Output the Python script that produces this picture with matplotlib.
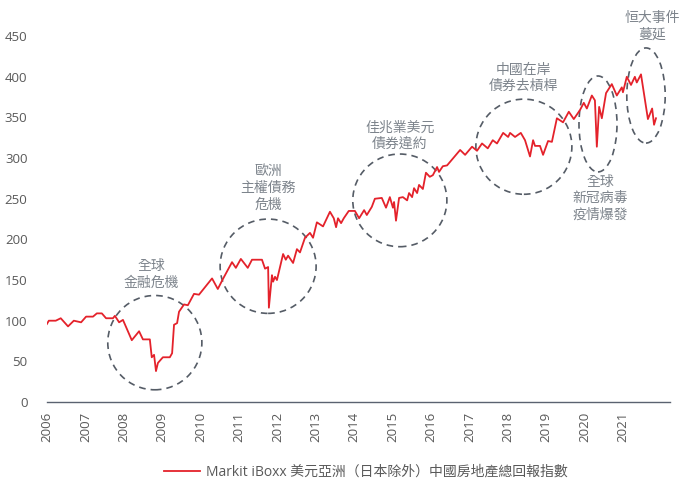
import matplotlib.pyplot as plt
from matplotlib.patches import Ellipse

# index level (decimal year, value)
years = [2006.00, 2006.05, 2006.23, 2006.36, 2006.55, 2006.70, 2006.89, 2007.02,
         2007.20, 2007.30, 2007.43, 2007.54, 2007.72, 2007.77, 2007.88, 2007.98,
         2008.21, 2008.40, 2008.50, 2008.68, 2008.73, 2008.79, 2008.84, 2008.89,
         2009.02, 2009.20, 2009.26, 2009.31, 2009.39, 2009.44, 2009.57, 2009.67,
         2009.83, 2009.96, 2010.30, 2010.45, 2010.58, 2010.82, 2010.92, 2011.05,
         2011.23, 2011.34, 2011.60, 2011.68, 2011.76, 2011.78, 2011.86, 2011.89,
         2011.94, 2011.99, 2012.15, 2012.22, 2012.28, 2012.41, 2012.51, 2012.59,
         2012.72, 2012.85, 2012.93, 2013.03, 2013.19, 2013.37, 2013.47, 2013.53,
         2013.58, 2013.66, 2013.73, 2013.86, 2014.02, 2014.13, 2014.26, 2014.33,
         2014.46, 2014.54, 2014.72, 2014.83, 2014.93, 2015.01, 2015.04, 2015.09,
         2015.17, 2015.27, 2015.38, 2015.43, 2015.51, 2015.56, 2015.64, 2015.69,
         2015.79, 2015.87, 2015.97, 2016.05, 2016.16, 2016.21, 2016.31, 2016.42,
         2016.76, 2016.89, 2017.07, 2017.20, 2017.33, 2017.48, 2017.61, 2017.72,
         2017.88, 2018.01, 2018.06, 2018.19, 2018.34, 2018.45, 2018.58, 2018.66,
         2018.71, 2018.84, 2018.92, 2019.05, 2019.15, 2019.28, 2019.44, 2019.59,
         2019.72, 2019.88, 2019.98, 2020.06, 2020.19, 2020.27, 2020.32, 2020.38,
         2020.45, 2020.56, 2020.71, 2020.84, 2020.97, 2021.00, 2021.10, 2021.21,
         2021.31, 2021.36, 2021.47, 2021.65, 2021.76, 2021.81, 2021.86]
values = [96, 100, 100, 103, 93, 100, 98, 105,
          105, 109, 109, 103, 103, 106, 98, 101,
          76, 87, 77, 77, 55, 58, 38, 48,
          55, 55, 60, 95, 97, 111, 120, 119,
          133, 132, 152, 139, 151, 172, 165, 176,
          165, 175, 175, 164, 166, 116, 156, 148,
          154, 150, 182, 175, 180, 171, 188, 184,
          202, 208, 202, 221, 216, 234, 226, 215,
          226, 220, 226, 235, 235, 226, 236, 230,
          240, 250, 251, 239, 252, 239, 246, 223,
          251, 252, 248, 257, 252, 263, 257, 267,
          262, 282, 277, 279, 289, 283, 290, 291,
          310, 304, 314, 309, 318, 312, 322, 318,
          331, 326, 331, 326, 331, 322, 302, 322,
          315, 315, 304, 321, 320, 349, 344, 357,
          348, 359, 368, 361, 377, 371, 314, 363,
          349, 380, 391, 377, 387, 381, 400, 390,
          400, 393, 403, 348, 361, 341, 349]

series_label = "Markit iBoxx 美元亞洲（日本除外）中國房地產總回報指數"

# events: label, centre year, centre value, ellipse width (years), height, label year, label value
event_labels = ["全球\n金融危機", "歐洲\n主權債務\n危機", "佳兆業美元\n債券違約",
                "中國在岸\n債券去槓桿", "全球\n新冠病毒\n疫情爆發", "恒大事件\n蔓延"]
event_x = [2008.81, 2011.76, 2015.19, 2018.42, 2020.35, 2021.60]
event_y = [73, 167, 248, 314, 342, 377]
event_w = [2.45, 2.5, 2.45, 2.5, 0.99, 1.0]
event_h = [116, 116, 114, 117, 118, 117]
label_x = [2008.73, 2011.76, 2015.19, 2018.42, 2020.40, 2021.76]
label_y = [156, 263, 327, 398, 250, 462]

x_ticks = list(range(2006, 2022))
y_ticks = [0, 50, 100, 150, 200, 250, 300, 350, 400, 450]

plt.rcParams['font.family'] = ['Open Sans', 'Noto Sans CJK TC', 'DejaVu Sans']

fig = plt.figure(figsize=(6.8, 4.82), dpi=100)
ax = fig.add_axes([0.069, 0.166, 0.916, 0.759])

ax.plot(years, values, color="#e4222b", linewidth=1.3, label=series_label)

for lab, cx, cy, w, h, lx, ly in zip(event_labels, event_x, event_y, event_w,
                                     event_h, label_x, label_y):
    ax.add_patch(Ellipse((cx, cy), w, h, fill=False, edgecolor="#555c66",
                         linestyle=(0, (4, 3)), linewidth=1.2, clip_on=False))
    ax.text(lx, ly, lab, ha="center", va="center", fontsize=10,
            color="#7d848c", linespacing=1.15)

ax.set_xlim(2006, 2022.22)
ax.set_ylim(0, 450)
ax.set_xticks(x_ticks)
ax.set_xticklabels([str(y) for y in x_ticks], rotation=90)
ax.set_yticks(y_ticks)
ax.tick_params(axis="both", length=0, labelsize=9.5, labelcolor="#595959")
ax.tick_params(axis="y", pad=14)
ax.tick_params(axis="x", pad=7)
for side in ["top", "right", "left"]:
    ax.spines[side].set_visible(False)
ax.spines["bottom"].set_color("#5a6270")
ax.spines["bottom"].set_linewidth(1.0)

fig.legend(loc="center", bbox_to_anchor=(366 / 680, 1 - 472 / 482), frameon=False,
           fontsize=10, labelcolor="#595959", handlelength=2.6, handletextpad=0.4)

fig.savefig("out.png", dpi=100)
